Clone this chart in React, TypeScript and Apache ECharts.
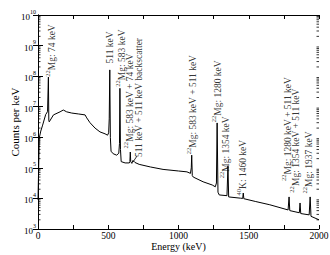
import React, { useEffect, useRef } from "react";
import * as echarts from "echarts";

const FONT = '"Liberation Serif", "DejaVu Serif", serif';

// Spectrum: energy (keV) and counts per keV
const energyKeV = [
  0, 9, 20, 33, 55, 62, 68, 71, 74, 77,
  80, 110, 157, 180, 204, 240, 287, 335, 347, 370,
  406, 441, 477, 495, 503, 507, 511, 515, 520, 535,
  560, 575, 580, 583, 587, 592, 620, 650, 654, 657,
  660, 668, 676, 690, 720, 800, 890, 1000, 1060, 1085,
  1091, 1094, 1098, 1105, 1175, 1240, 1262, 1270, 1275, 1281,
  1290, 1345, 1352, 1357, 1440, 1457, 1461, 1465, 1550, 1650,
  1780, 1787, 1792, 1860, 1865, 1870, 1930, 1937, 1943, 2000,
];
const countsPerKeV = [
  9000, 9.5e5, 1.6e6, 2.5e6, 5.6e6, 6.2e6, 7.1e6, 7.0e6, 9.3e7, 3.5e6,
  3.2e6, 5.4e6, 6.8e6, 7.8e6, 6.8e6, 6.2e6, 5.8e6, 5.4e6, 4.3e6, 3.0e6,
  2.0e6, 1.5e6, 1.3e6, 1.17e6, 1.4e6, 4e6, 1.6e8, 1e6, 3.5e5, 2.9e5,
  2.6e5, 3.0e5, 6.3e5, 4.0e7, 4e5, 1.6e5, 1.45e5, 1.45e5, 1.6e5, 3.3e5,
  1.6e5, 1.4e5, 1.75e5, 1.5e5, 1.3e5, 1.07e5, 8.9e4, 7.9e4, 7.4e4, 6.6e4,
  1e5, 2.6e5, 5.6e4, 5e4, 3.5e4, 2.75e4, 2.4e4, 3.2e4, 2.95e6, 1.6e4,
  1.3e4, 1.23e4, 1.17e5, 1.12e4, 1.02e4, 1e4, 1.5e4, 9.8e3, 7.9e3, 6.2e3,
  4.2e3, 1.12e4, 4.0e3, 3.4e3, 7.1e3, 3.2e3, 2.9e3, 1.12e4, 2.6e3, 2.0e3,
];

// Peak annotations (isotope superscript, text, anchor energy, anchor counts)
const labelIsotopes = ["22", "", "22", "22", "", "22", "22", "22", "40", "22", "22", "22"];
const labelTexts = [
  "Mg: 74 keV",
  "511 keV",
  "Mg: 583 keV",
  "Mg: 583 keV + 74 keV",
  "511 keV + 511 keV backscatter",
  "Mg: 583 keV + 511 keV",
  "Mg: 1280 keV",
  "Mg: 1354 keV",
  "K: 1460 keV",
  "Mg: 1280 keV + 511 keV",
  "Mg: 1354 keV + 511 keV",
  "Mg: 1937 keV",
];
const labelEnergies = [92, 505, 584, 641, 705, 1089, 1267, 1324, 1445, 1772, 1829, 1915];
const labelCounts = [6.9e8, 8.7e8, 3.9e8, 1.55e7, 2.0e7, 1.17e7, 3.2e7, 4.7e5, 1.02e5, 1.86e6, 7.8e5, 1.5e5];

// Pointer from the backscatter label to the spectrum
const pointerEnergies = [705, 676];
const pointerCounts = [2.45e5, 1.55e5];

// Axis settings
const xMin = 0;
const xMax = 2000;
const xTickStep = 250;
const xLabelStep = 500;
const yMin = 1e3;
const yMax = 1e10;
const minorLogMultipliers = [2, 3, 4, 5, 6, 7, 8, 9];

export default function App() {
  const ref = useRef<HTMLDivElement>(null);

  useEffect(() => {
    if (!ref.current) return;
    const chart = echarts.init(ref.current, undefined, { renderer: "svg" });

    const minorTicks: number[][] = [];
    for (let e = Math.log10(yMin); e < Math.log10(yMax); e++) {
      for (const k of minorLogMultipliers) minorTicks.push([xMin, k * Math.pow(10, e)]);
    }

    const axisLine = { show: true, lineStyle: { color: "#000", width: 1 } };

    const option: any = {
      animation: false,
      backgroundColor: "#fff",
      grid: { left: 38, right: 11, top: 15, bottom: 26, containLabel: false, outerBoundsMode: "none" },
      xAxis: [
        {
          type: "value",
          position: "bottom",
          min: xMin,
          max: xMax,
          interval: xTickStep,
          axisLine,
          axisTick: { show: true, inside: true, length: 4, lineStyle: { color: "#000" } },
          splitLine: { show: false },
          axisLabel: {
            color: "#000",
            fontFamily: FONT,
            fontSize: 9.5,
            margin: 2,
            formatter: (v: number) => (v % xLabelStep === 0 ? String(v) : ""),
          },
          name: "Energy (keV)",
          nameLocation: "middle",
          nameGap: 12.5,
          nameMoveOverlap: false,
          nameTextStyle: { color: "#000", fontFamily: FONT, fontSize: 10 },
        },
        {
          type: "value",
          position: "top",
          min: xMin,
          max: xMax,
          interval: xTickStep,
          axisLine,
          axisTick: { show: true, inside: true, length: 4, lineStyle: { color: "#000" } },
          splitLine: { show: false },
          axisLabel: { show: false },
        },
      ],
      yAxis: [
        {
          type: "log",
          logBase: 10,
          position: "left",
          min: yMin,
          max: yMax,
          axisLine,
          axisTick: { show: true, inside: true, length: 5, lineStyle: { color: "#000" } },
          splitLine: { show: false },
          axisLabel: {
            color: "#000",
            margin: 2,
            formatter: (v: number) => `{b|10}{e|${Math.round(Math.log10(v))}}`,
            rich: {
              b: { fontFamily: FONT, fontSize: 9, color: "#000", lineHeight: 13, verticalAlign: "bottom" },
              e: { fontFamily: FONT, fontSize: 6, color: "#000", verticalAlign: "top" },
            },
          },
          name: "Counts per keV",
          nameLocation: "middle",
          nameGap: 18,
          nameMoveOverlap: false,
          nameTextStyle: { color: "#000", fontFamily: FONT, fontSize: 11 },
        },
        {
          type: "log",
          logBase: 10,
          position: "right",
          min: yMin,
          max: yMax,
          axisLine,
          axisTick: { show: true, inside: true, length: 5, lineStyle: { color: "#000" } },
          splitLine: { show: false },
          axisLabel: { show: false },
        },
      ],
      series: [
        {
          type: "line",
          data: energyKeV.map((e, i) => [e, countsPerKeV[i]]),
          showSymbol: false,
          symbol: "none",
          lineStyle: { color: "#000", width: 1 },
          z: 3,
        },
        {
          type: "line",
          data: pointerEnergies.map((e, i) => [e, pointerCounts[i]]),
          showSymbol: false,
          symbol: "none",
          lineStyle: { color: "#000", width: 0.8 },
        },
        {
          type: "custom",
          data: minorTicks,
          silent: true,
          renderItem: (_params: any, api: any) => {
            const v = api.value(1);
            const pL = api.coord([xMin, v]);
            const pR = api.coord([xMax, v]);
            return {
              type: "group",
              children: [
                { type: "line", shape: { x1: pL[0], y1: pL[1], x2: pL[0] + 2.5, y2: pL[1] }, style: { stroke: "#000", lineWidth: 0.8 } },
                { type: "line", shape: { x1: pR[0] - 2.5, y1: pR[1], x2: pR[0], y2: pR[1] }, style: { stroke: "#000", lineWidth: 0.8 } },
              ],
            };
          },
        },
        {
          type: "scatter",
          data: labelEnergies.map((e, i) => [e, labelCounts[i]]),
          symbolSize: 1,
          itemStyle: { color: "rgba(0,0,0,0)" },
          silent: true,
          label: {
            show: true,
            position: "inside",
            rotate: 90,
            align: "center",
            verticalAlign: "middle",
            formatter: (p: any) => {
              const i = p.dataIndex;
              const sup = labelIsotopes[i];
              return (sup ? `{s|${sup}}` : "") + `{m|${labelTexts[i]}}`;
            },
            rich: {
              m: { fontFamily: FONT, fontSize: 9.5, color: "#000", lineHeight: 13, verticalAlign: "bottom" },
              s: { fontFamily: FONT, fontSize: 6.5, color: "#000", verticalAlign: "top" },
            },
          },
        },
      ],
    };

    chart.setOption(option);
    return () => chart.dispose();
  }, []);

  return (
    <div
      ref={ref}
      style={{ position: "fixed", left: 0, top: 0, width: 330, height: 255, background: "#fff" }}
    />
  );
}
